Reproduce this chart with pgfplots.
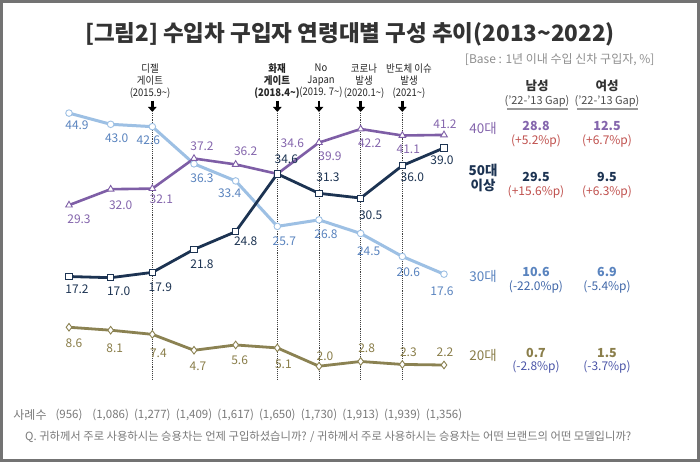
\documentclass[border=0pt]{standalone}
\usepackage{fontspec}
\setmainfont{Noto Sans CJK KR}
\newfontfamily\cond{Noto Sans CJK KR}[FakeStretch=0.9]
\usepackage{pgfplots}
\pgfplotsset{compat=1.18}
\usepackage{pgfplotstable}
\usetikzlibrary{arrows.meta}

\definecolor{cA}{HTML}{9DC0E4}
\definecolor{cAt}{HTML}{5A84BF}
\definecolor{cAn}{HTML}{3F66A8}
\definecolor{cB}{HTML}{7E5EA6}
\definecolor{cBt}{HTML}{8566AD}
\definecolor{cC}{HTML}{1C3352}
\definecolor{cD}{HTML}{8B8252}
\definecolor{cDt}{HTML}{8A7E4A}
\definecolor{cRed}{HTML}{C0504D}
\definecolor{cNeg}{HTML}{4B55A8}
\definecolor{cGray}{HTML}{7A7A7A}
\definecolor{cTitle}{HTML}{333333}

\pgfplotstableread{
x y lab dx sy
0 44.9 44.9 8 -12
1 43.0 43.0 6 -14
2 42.6 42.6 -4 -14
3 36.3 36.3 8 -14
4 33.4 33.4 -6 -12
5 25.7 25.7 7 -15
6 26.8 26.8 7 -14
7 24.5 24.5 8 -18
8 20.6 20.6 6 -16
9 17.6 17.6 -2 -17
}\tA
\pgfplotstableread{
x y lab dx sy
0 29.3 29.3 10 -14
1 32.0 32.0 10 -16
2 32.1 32.1 9 -11
3 37.2 37.2 8 12
4 36.2 36.2 10 13
5 34.6 34.6 15 31
6 39.9 39.9 11 -14
7 42.2 42.2 9 -14
8 41.1 41.1 6 -14
9 41.2 41.2 1 11
}\tB
\pgfplotstableread{
x y lab dx sy
0 17.2 17.2 8 -13
1 17.0 17.0 8 -14
2 17.9 17.9 8 -15
3 21.8 21.8 8 -15
4 24.8 24.8 10 -10
5 34.6 34.6 9 15
6 31.3 31.3 9 16
7 30.5 30.5 10 -17
8 36.0 36.0 10 -12
9 39.0 39.0 -2 -12
}\tC
\pgfplotstableread{
x y lab dx sy
0 8.6 8.6 5 -16
1 8.1 8.1 4 -18
2 7.4 7.4 6 -19
3 4.7 4.7 4 -16
4 5.6 5.6 4 -15
5 5.1 5.1 6 -16
6 2.0 2.0 6 10
7 2.8 2.8 6 13
8 2.3 2.3 6 12
9 2.2 2.2 1 13
}\tD

\pgfplotsset{
  lbl/.style={
    point meta=explicit symbolic,
    nodes near coords,
    visualization depends on={\thisrow{dx}\as\dx},
    visualization depends on={\thisrow{sy}\as\sy},
    every node near coord/.append style={anchor=center, xshift=\dx pt, yshift=\sy pt,
      font=\fontsize{12}{13}\selectfont, inner sep=0pt, text=#1},
  }
}

\begin{document}
\begin{tikzpicture}
\useasboundingbox (0,0) rectangle (700pt,-462pt);
\fill[white] (0,0) rectangle (700pt,-462pt);

\begin{axis}[at={(69pt,-378pt)}, anchor=south west, scale only axis,
  width=375pt, height=295pt, xmin=0, xmax=9, ymin=0, ymax=50,
  hide axis, clip=false]
  \pgfplotsinvokeforeach{2,5,6,7,8}{
    \draw[densely dotted, black!75, line width=0.9pt] (axis cs:#1,-0.3) -- (axis cs:#1,45.0);
    \draw[-{Triangle[length=5pt,width=8.5pt]}, line width=2.6pt, black] (axis cs:#1,47.0) -- (axis cs:#1,45.1);
  }
  \addplot[color=cD, line width=2.8pt, mark=diamond*, mark size=3.8pt,
    mark options={fill=white, draw=cD, line width=0.9pt}, lbl=cDt]
    table[x=x, y=y, meta=lab] {\tD};
  \addplot[color=cA, line width=3pt, mark=*, mark size=3.3pt,
    mark options={fill=white, draw=cA, line width=0.9pt}, lbl=cAt]
    table[x=x, y=y, meta=lab] {\tA};
  \addplot[color=cB, line width=2.6pt, mark=triangle*, mark size=3.8pt,
    mark options={fill=white, draw=cB, line width=0.9pt}, lbl=cBt]
    table[x=x, y=y, meta=lab] {\tB};
  \addplot[color=cC, line width=2.8pt, mark=square*, mark size=3.1pt,
    mark options={fill=white, draw=cC, line width=0.9pt}, lbl=cC]
    table[x=x, y=y, meta=lab] {\tC};
\end{axis}

% title
\node[font=\fontsize{22.5}{26}\selectfont\bfseries, text=cTitle] at (350pt,-34pt)
  {[그림2] 수입차 구입자 연령대별 구성 추이(2013\char`\~2022)};
\node[font=\fontsize{12}{14}\selectfont, text=cGray!85, anchor=east] at (658pt,-60pt)
  {[Base : 1년 이내 수입 신차 구입자, \%]};

% annotations
\begin{scope}[every node/.style={align=center, font=\cond\fontsize{10.5}{12}\selectfont, inner sep=0pt, text=black!85}]
\node at (150pt,-81pt) {디젤\\게이트\\(2015.9\char`\~)};
\node[font=\cond\fontsize{10.5}{12}\selectfont\bfseries] at (277pt,-81pt) {화재\\게이트\\(2018.4\char`\~)};
\node at (321pt,-81pt) {No\\Japan\\(2019. 7\char`\~)};
\node at (364pt,-81pt) {코로나\\발생\\(2020.1\char`\~)};
\node at (409pt,-81pt) {반도체 이슈\\발생\\(2021\char`\~)};
\end{scope}

% right labels
\node[font=\fontsize{13.5}{15}\selectfont, text=cBt] at (483pt,-128pt) {40대};
\node[font=\fontsize{13.5}{15}\selectfont\bfseries, text=cC, align=center] at (483pt,-178pt) {50대\\이상};
\node[font=\fontsize{13.5}{15}\selectfont, text=cAt] at (483pt,-276pt) {30대};
\node[font=\fontsize{13.5}{15}\selectfont, text=cDt] at (483pt,-355pt) {20대};

% table header
\foreach \cx/\t in {537/남성, 607/여성}{
  \node[font=\fontsize{12.5}{14}\selectfont\bfseries, text=cTitle] at (\cx pt,-86pt) {\t};
  \node[font=\fontsize{11}{12}\selectfont, text=black!70] at (\cx pt,-101pt) {('22-'13 Gap)};
}
\draw[black!40, line width=2pt] (507pt,-109pt) -- (568pt,-109pt);
\draw[black!40, line width=2pt] (577pt,-109pt) -- (638pt,-109pt);

% table values
\begin{scope}[every node/.style={inner sep=0pt}]
\node[font=\fontsize{12.5}{14}\selectfont\bfseries, text=cBt] at (536pt,-126pt) {28.8};
\node[font=\fontsize{12.5}{14}\selectfont\bfseries, text=cBt] at (607pt,-126pt) {12.5};
\node[font=\fontsize{12}{14}\selectfont, text=cRed] at (536pt,-141pt) {(+5.2\%p)};
\node[font=\fontsize{12}{14}\selectfont, text=cRed] at (607pt,-141pt) {(+6.7\%p)};

\node[font=\fontsize{12.5}{14}\selectfont\bfseries, text=cC] at (536pt,-177pt) {29.5};
\node[font=\fontsize{12.5}{14}\selectfont\bfseries, text=cC] at (607pt,-177pt) {9.5};
\node[font=\fontsize{12}{14}\selectfont, text=cRed] at (536pt,-192pt) {(+15.6\%p)};
\node[font=\fontsize{12}{14}\selectfont, text=cRed] at (607pt,-192pt) {(+6.3\%p)};

\node[font=\fontsize{12.5}{14}\selectfont\bfseries, text=cAt] at (536pt,-272pt) {10.6};
\node[font=\fontsize{12.5}{14}\selectfont\bfseries, text=cAt] at (607pt,-272pt) {6.9};
\node[font=\fontsize{12}{14}\selectfont, text=cAn] at (536pt,-287pt) {(-22.0\%p)};
\node[font=\fontsize{12}{14}\selectfont, text=cAn] at (607pt,-287pt) {(-5.4\%p)};

\node[font=\fontsize{12.5}{14}\selectfont\bfseries, text=cDt] at (536pt,-353pt) {0.7};
\node[font=\fontsize{12.5}{14}\selectfont\bfseries, text=cDt] at (607pt,-353pt) {1.5};
\node[font=\fontsize{12}{14}\selectfont, text=cNeg] at (536pt,-367pt) {(-2.8\%p)};
\node[font=\fontsize{12}{14}\selectfont, text=cNeg] at (607pt,-367pt) {(-3.7\%p)};
\end{scope}

% bottom
\node[font=\fontsize{12}{13}\selectfont, text=cGray] at (30pt,-415pt) {사례수};
\foreach \i/\n in {0/956, 1/{1,086}, 2/{1,277}, 3/{1,409}, 4/{1,617}, 5/{1,650}, 6/{1,730}, 7/{1,913}, 8/{1,939}, 9/{1,356}}{
  \pgfmathsetmacro{\xx}{69+41.667*\i}
  \node[font=\fontsize{11.5}{13}\selectfont, text=cGray] at (\xx pt,-415pt) {(\n)};
}
\node[font=\fontsize{11.3}{13}\selectfont, text=cGray, anchor=west, inner sep=0pt] at (25pt,-437pt)
  {Q. 귀하께서 주로 사용하시는 승용차는 언제 구입하셨습니까? / 귀하께서 주로 사용하시는 승용차는 어떤 브랜드의 어떤 모델입니까?};

\draw[color=black!55, line width=3pt] (1.5pt,-1.5pt) rectangle (698.5pt,-460.5pt);
\end{tikzpicture}
\end{document}
